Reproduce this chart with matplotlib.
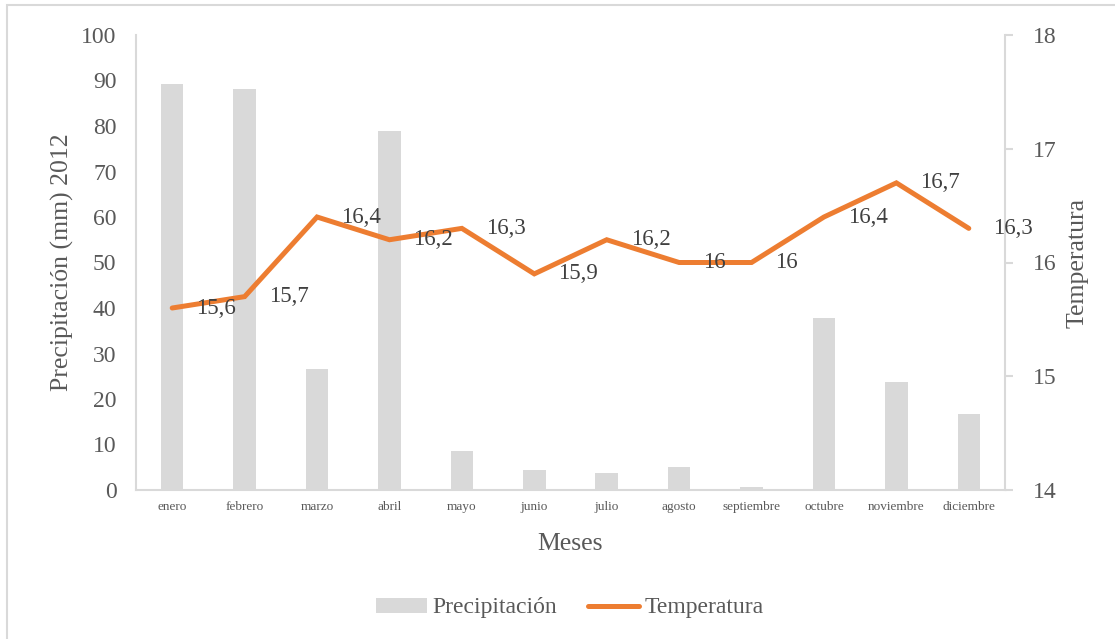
import matplotlib
matplotlib.use("Agg")
import matplotlib.pyplot as plt
from matplotlib.lines import Line2D
from matplotlib.patches import Patch, Rectangle

meses = ["enero", "febrero", "marzo", "abril", "mayo", "junio", "julio",
         "agosto", "septiembre", "octubre", "noviembre", "diciembre"]
precipitacion = [89.2, 88.1, 26.6, 79.0, 8.6, 4.4, 3.8, 5.0, 0.7, 37.9, 23.8, 16.6]
temperatura = [15.6, 15.7, 16.4, 16.2, 16.3, 15.9, 16.2, 16.0, 16.0, 16.4, 16.7, 16.3]

W, H = 1115, 639
plt.rcParams["font.family"] = ["Liberation Serif", "DejaVu Serif"]
TXT = "#595959"
BAR = "#D9D9D9"
LINE = "#ED7D31"
AX = "#D9D9D9"

fig = plt.figure(figsize=(W / 100, H / 100), dpi=100)
fig.patch.set_facecolor("white")

# outer frame of the chart area
fig.patches.append(Rectangle((7 / W, -0.01), 1.2, (639 - 5) / H + 0.01,
                             transform=fig.transFigure, fill=False,
                             edgecolor=AX, linewidth=1.5))

left, right, bottom, top = 136, 1005, 490, 35
ax = fig.add_axes([left / W, (H - bottom) / H, (right - left) / W, (bottom - top) / H])
x = list(range(len(meses)))

ax.bar(x, precipitacion, width=0.31, color=BAR, zorder=1)
ax.set_xlim(-0.5, len(meses) - 0.5)
ax.set_ylim(0, 100)
ax.set_yticks(range(0, 101, 10))
ax.set_xticks(x)
ax.set_xticklabels(meses, fontsize=9.5, color=TXT)
ax.tick_params(axis="y", length=0, pad=14, labelsize=17, labelcolor=TXT)
ax.tick_params(axis="x", length=0, pad=8)
for s in ["top", "right"]:
    ax.spines[s].set_visible(False)
ax.spines["left"].set_color(AX)
ax.spines["bottom"].set_color(AX)
ax.spines["left"].set_linewidth(1.5)
ax.spines["bottom"].set_linewidth(1.5)
ax.set_ylabel("Precipitación (mm) 2012", fontsize=18.5, color=TXT, labelpad=5)
ax.set_xlabel("Meses", fontsize=18.5, color=TXT, labelpad=14)

ax2 = ax.twinx()
ax2.plot(x, temperatura, color=LINE, linewidth=3.6, solid_capstyle="round",
         solid_joinstyle="miter", zorder=3)
ax2.set_ylim(14, 18)
ax2.set_yticks([14, 15, 16, 17, 18])
ax2.tick_params(axis="y", length=6, width=1.5, color=AX, pad=14,
                labelsize=17, labelcolor=TXT)
for s in ["top", "left", "bottom"]:
    ax2.spines[s].set_visible(False)
ax2.spines["right"].set_color(AX)
ax2.spines["right"].set_linewidth(1.5)
ax2.set_ylabel("Temperatura", fontsize=18.5, color=TXT, labelpad=7)

for xi, t in zip(x, temperatura):
    lbl = f"{t:g}".replace(".", ",")
    ax2.annotate(lbl, (xi, t), xytext=(24, 0), textcoords="offset pixels",
                 ha="left", va="center", fontsize=16.5, color="#404040", zorder=4)

handles = [Patch(facecolor=BAR, edgecolor="none"),
           Line2D([0], [0], color=LINE, linewidth=3.6, solid_capstyle="round")]
fig.legend(handles, ["Precipitación", "Temperatura"], loc="center",
           bbox_to_anchor=(570 / W, (H - 608) / H), ncol=2, frameon=False,
           fontsize=17, labelcolor=TXT, handlelength=2.15, handleheight=0.6,
           handletextpad=0.25, columnspacing=1.3)

fig.savefig("out.png", dpi=100, facecolor="white")
